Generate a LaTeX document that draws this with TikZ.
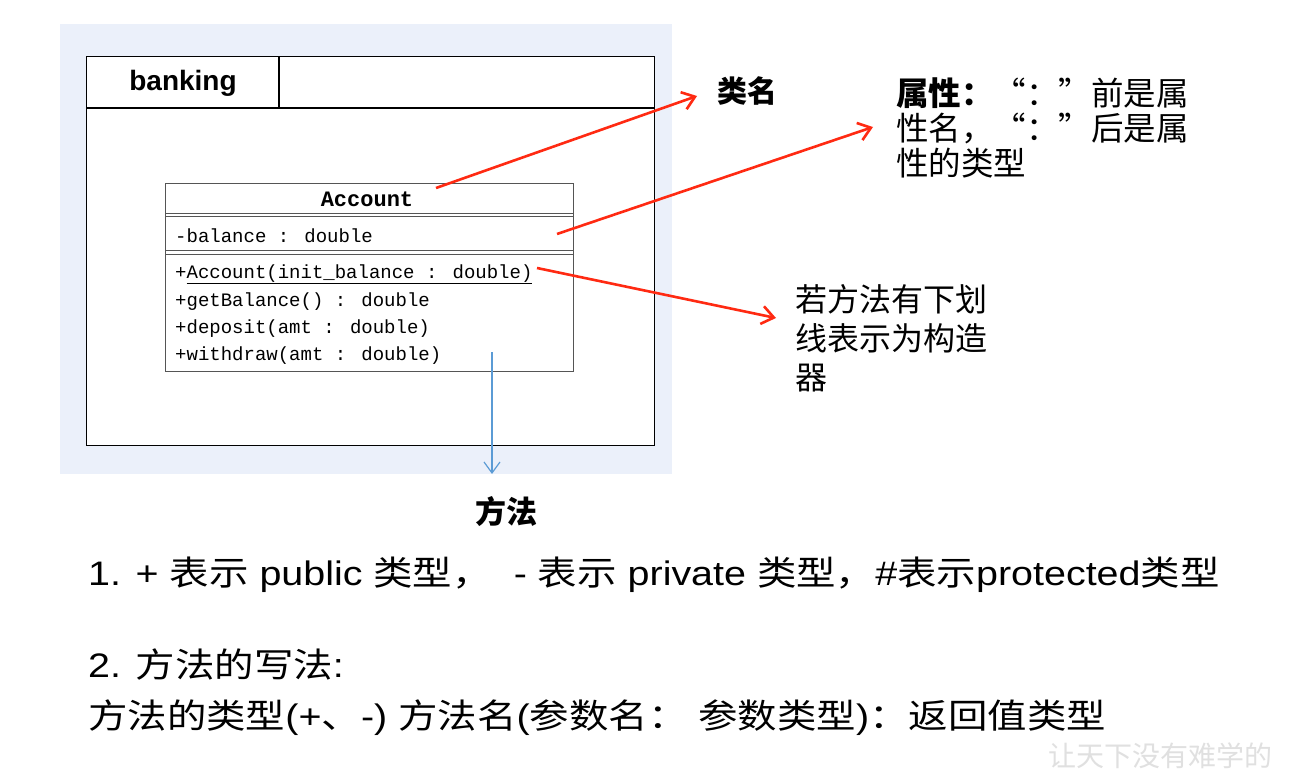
\documentclass[tikz,border=0pt]{standalone}
\usepackage{fontspec}
\setmainfont{Liberation Sans}
\newfontfamily\cjk{Noto Sans CJK SC}
\newfontfamily\cjkw[FakeStretch=1.16]{Noto Sans CJK SC}
\newfontfamily\latw[FakeStretch=1.16]{Liberation Sans}
\newfontfamily\monof{Liberation Mono}
\usetikzlibrary{arrows.meta}
\newcommand\zh[1]{{\cjkw #1}}
\definecolor{bgblue}{HTML}{EBF0FA}
\definecolor{arrred}{HTML}{FF2A12}
\definecolor{arrblue}{HTML}{5B9BD5}
\definecolor{umlgray}{HTML}{555555}
\tikzset{
  redarrow/.style={draw=arrred, line width=2.6pt, -{Straight Barb[length=12pt,width=18pt,line width=2.6pt]}},
  bluearrow/.style={draw=arrblue, line width=1.2pt, -{Straight Barb[length=11pt,width=16pt,line width=1.2pt]}},
  umlrow/.style={anchor=base west, inner sep=0pt, font=\monof\fontsize{19}{22}\selectfont},
  note/.style={anchor=north west, inner sep=0pt, align=left, font=\cjk\fontsize{32.5}{35}\selectfont},
  bottomtext/.style={anchor=base west, inner sep=0pt, font=\latw\fontsize{34}{40}\selectfont},
}
\begin{document}
\begin{tikzpicture}[x=1pt,y=-1pt]
\useasboundingbox (0,0) rectangle (1312,771);
\fill[white] (0,0) rectangle (1312,771);
% background panel
\fill[bgblue] (60,24) rectangle (672,474);
% package
\node[draw=black, fill=white, line width=1.4pt, minimum width=568pt, minimum height=389pt, inner sep=0pt, anchor=north west] (pkg) at (86,56) {};
\draw[line width=1.2pt] (86,108) -- (654,108);
\draw[line width=1.2pt] (279,56) -- (279,108);
\node[font=\bfseries\fontsize{28}{32}\selectfont, inner sep=0pt] (bank) at (183,83) {banking};
% class
\node[draw=umlgray, fill=white, line width=1.4pt, minimum width=408pt, minimum height=188pt, inner sep=0pt, anchor=north west] (acct) at (165,183) {};
\draw[umlgray, line width=1pt] (165,213.5) -- (573,213.5);
\draw[umlgray, line width=1pt] (165,216.8) -- (573,216.8);
\draw[umlgray, line width=1pt] (165,250.5) -- (573,250.5);
\draw[umlgray, line width=1pt] (165,254) -- (573,254);
\node[font=\monof\bfseries\fontsize{22}{24}\selectfont, inner sep=0pt] (cname) at (367,199) {Account};
\node[umlrow] (attr) at (175,242) {-balance : double};
\node[umlrow] (m1) at (175,278) {+\underline{Account(init\_balance : double)}};
\node[umlrow] (m2) at (175,306) {+getBalance() : double};
\node[umlrow] (m3) at (175,333) {+deposit(amt : double)};
\node[umlrow] (m4) at (175,360) {+withdraw(amt : double)};
% labels
\node[font=\cjk\bfseries\fontsize{30}{34}\selectfont, inner sep=0pt] (lcls) at (747,91) {类名};
\node[note] (lattr) at (896,78) {\textbf{属性：}“：”前是属\\性名，“：”后是属\\性的类型};
\node[note, font=\cjk\fontsize{32}{39}\selectfont] (lctor) at (795,284) {若方法有下划\\线表示为构造\\器};
\node[font=\cjk\bfseries\fontsize{31}{34}\selectfont, inner sep=0pt] (lmeth) at (506,512) {方法};
% connectors
\coordinate (s1) at (436,188);
\coordinate (e1) at (697,96);
\coordinate (s2) at (557,234);
\coordinate (e2) at (873,127);
\coordinate (s3) at (537,268);
\coordinate (e3) at (776,318);
\coordinate (s4) at (492,352);
\coordinate (e4) at (492,474);
\draw[redarrow] (s1) -- (e1);
\draw[redarrow] (s2) -- (e2);
\draw[redarrow] (s3) -- (e3);
\draw[bluearrow] (s4) -- (e4);
% bottom text
\node[bottomtext] (t1) at (88,585) {1. + \zh{表示} public \zh{类型，}\ \ - \zh{表示} private \zh{类型，}\#\zh{表示}protected\zh{类型}};
\node[bottomtext] (t2) at (88,677) {2. \zh{方法的写法}:};
\node[bottomtext] (t3) at (88,728) {\zh{方法的类型}(+\zh{、}-) \zh{方法名}(\zh{参数名：} \zh{参数类型})\zh{：返回值类型}};
% watermark
\node[anchor=base west, inner sep=0pt, text=black!12, font=\cjk\fontsize{28}{30}\selectfont] (wm) at (1048,766) {让天下没有难学的};
\end{tikzpicture}
\end{document}
